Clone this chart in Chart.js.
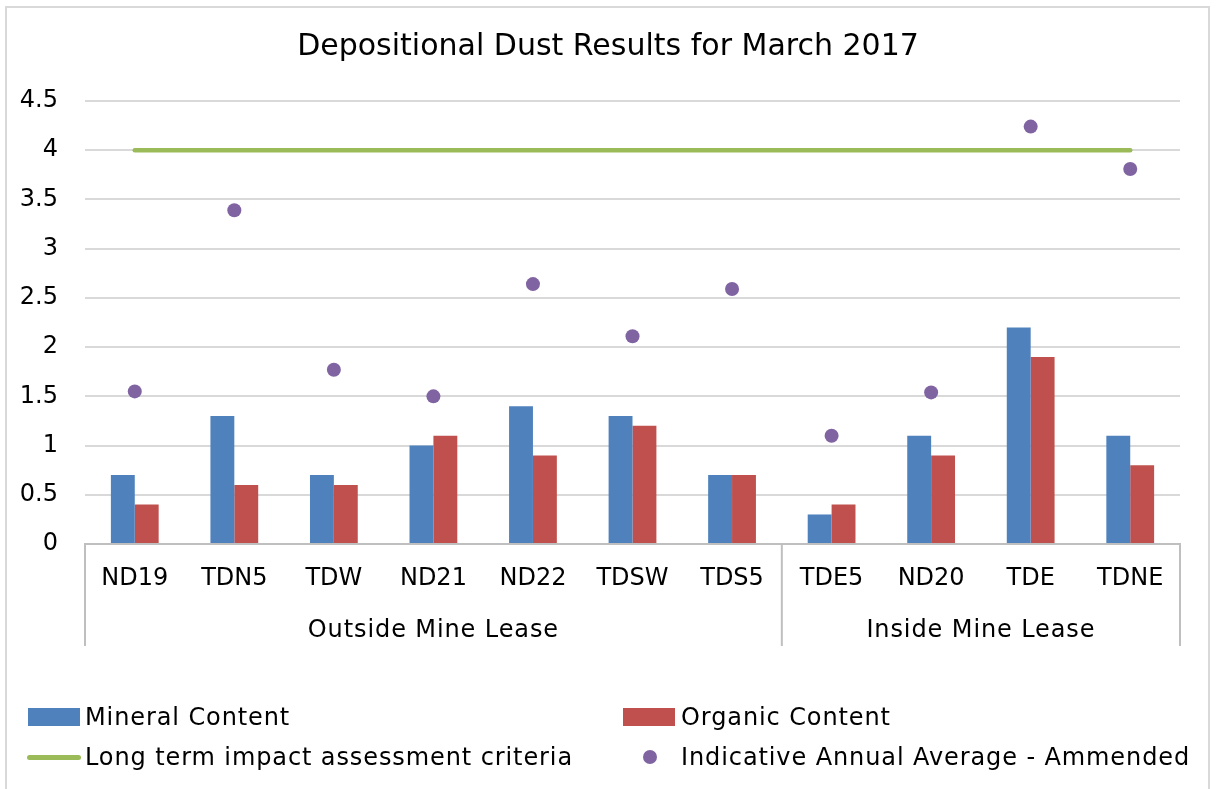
<!DOCTYPE html>
<html>
<head>
<meta charset="utf-8">
<script src="https://cdn.jsdelivr.net/npm/chart.js@4.4.1/dist/chart.umd.min.js"></script>
<style>
  html, body { margin: 0; padding: 0; background: #fff; }
  body { width: 1216px; height: 789px; position: relative; overflow: hidden; font-family: "DejaVu Sans", sans-serif; }
  #frame { position: absolute; left: 5px; top: 6px; width: 1205px; height: 820px; border: 2px solid #d9d9d9; box-sizing: border-box; }
  #wrap { position: absolute; left: 0; top: 0; width: 1216px; height: 789px; }
  #legend { position: absolute; left: 0; top: 0; width: 1216px; height: 789px; pointer-events: none; }
  .li { position: absolute; font-size: 24px; letter-spacing: 0.9px; color: #000; white-space: nowrap; line-height: 28px; }
  .sw { position: absolute; }
</style>
</head>
<body>
<div id="frame"></div>
<div id="wrap"><canvas id="c" width="1216" height="789"></canvas></div>
<div id="legend"></div>
<script>
const categories = ["ND19", "TDN5", "TDW", "ND21", "ND22", "TDSW", "TDS5", "TDE5", "ND20", "TDE", "TDNE"];
const groupNames = ["Outside Mine Lease", "Inside Mine Lease"];
const groupSizes = [7, 4];
const mineral = [0.7, 1.3, 0.7, 1.0, 1.4, 1.3, 0.7, 0.3, 1.1, 2.2, 1.1];
const organic = [0.4, 0.6, 0.6, 1.1, 0.9, 1.2, 0.7, 0.4, 0.9, 1.9, 0.8];
const criteria = [4, 4, 4, 4, 4, 4, 4, 4, 4, 4, 4];
const annualAvg = [1.55, 3.39, 1.77, 1.50, 2.64, 2.11, 2.59, 1.10, 1.54, 4.24, 3.81];
const yTicks = [0, 0.5, 1, 1.5, 2, 2.5, 3, 3.5, 4, 4.5];
const yTickLabels = ["0", "0.5", "1", "1.5", "2", "2.5", "3", "3.5", "4", "4.5"];

const FONT = '"DejaVu Sans", sans-serif';

const groupPlugin = {
  id: 'groupAxis',
  afterDraw(chart) {
    const ctx = chart.ctx;
    const xs = chart.scales.x;
    const area = chart.chartArea;
    const yTop = area.bottom;
    const yBot = 646;
    ctx.save();
    ctx.strokeStyle = '#bfbfbf';
    ctx.lineWidth = 2;
    let idx = 0;
    const bounds = [area.left];
    for (let g = 0; g < groupSizes.length; g++) {
      idx += groupSizes[g];
      if (idx < categories.length) {
        bounds.push((xs.getPixelForValue(idx - 1) + xs.getPixelForValue(idx)) / 2);
      } else {
        bounds.push(area.right);
      }
    }
    bounds.forEach(b => {
      ctx.beginPath();
      ctx.moveTo(b, yTop);
      ctx.lineTo(b, yBot);
      ctx.stroke();
    });
    ctx.fillStyle = '#000';
    ctx.font = '24px ' + FONT;
    if ('letterSpacing' in ctx) ctx.letterSpacing = '0.9px';
    ctx.textAlign = 'center';
    ctx.textBaseline = 'middle';
    for (let g = 0; g < groupNames.length; g++) {
      ctx.fillText(groupNames[g], (bounds[g] + bounds[g + 1]) / 2, 631);
    }
    ctx.restore();
  }
};

const chart = new Chart(document.getElementById('c'), {
  data: {
    labels: categories,
    datasets: [
      { type: 'bar', label: 'Mineral Content', data: mineral, backgroundColor: '#4f81bd', order: 2,
        categoryPercentage: 0.48, barPercentage: 1.0 },
      { type: 'bar', label: 'Organic Content', data: organic, backgroundColor: '#c0504d', order: 2,
        categoryPercentage: 0.48, barPercentage: 1.0 },
      { type: 'line', label: 'Long term impact assessment criteria', data: criteria, borderColor: '#9bbb59',
        backgroundColor: '#9bbb59', borderWidth: 4.5, pointRadius: 0, borderCapStyle: 'round', order: 1, fill: false },
      { type: 'line', label: 'Indicative Annual Average - Ammended', data: annualAvg, showLine: false,
        borderColor: '#8064a2', backgroundColor: '#8064a2', pointRadius: 7, pointBorderWidth: 0, order: 0 }
    ]
  },
  options: {
    responsive: false,
    animation: false,
    layout: { padding: { left: 0, right: 0, top: 0, bottom: 140 } },
    plugins: {
      legend: { display: false },
      tooltip: { enabled: false },
      title: {
        display: true,
        text: 'Depositional Dust Results for March 2017',
        color: '#000',
        font: { family: FONT, size: 30, weight: 'normal' },
        padding: { top: 29, bottom: 36 }
      }
    },
    scales: {
      x: {
        grid: { display: false, drawTicks: false },
        border: { color: '#bfbfbf', width: 2 },
        ticks: { color: '#000', font: { family: FONT, size: 24 }, padding: 20, maxRotation: 0, autoSkip: false },
        afterFit(s) { s.height = 105; }
      },
      y: {
        min: 0, max: 4.5,
        afterBuildTicks(s) { s.ticks = yTicks.map(v => ({ value: v })); },
        grid: { color: '#d9d9d9', lineWidth: 2, drawTicks: false },
        border: { display: false },
        ticks: {
          color: '#000', font: { family: FONT, size: 24 }, padding: 27,
          callback(v, i) { return yTickLabels[i]; }
        },
        afterFit(s) { s.width = 85; }
      },
      yRight: {
        position: 'right',
        min: 0, max: 4.5,
        grid: { display: false, drawTicks: false },
        border: { display: false },
        ticks: { display: false },
        afterFit(s) { s.width = 36; }
      }
    }
  },
  plugins: [groupPlugin]
});

// HTML legend built from the chart datasets
const legendPos = [
  { sx: 28, tx: 85, y: 717 },
  { sx: 623, tx: 681, y: 717 },
  { sx: 27, tx: 85, y: 757 },
  { sx: 643, tx: 681, y: 757 }
];
const leg = document.getElementById('legend');
chart.data.datasets.forEach((ds, i) => {
  const p = legendPos[i];
  const sw = document.createElement('div');
  sw.className = 'sw';
  if (ds.type === 'bar') {
    Object.assign(sw.style, { left: p.sx + 'px', top: (p.y - 9) + 'px', width: '52px', height: '18px', background: ds.backgroundColor });
  } else if (ds.showLine === false) {
    Object.assign(sw.style, { left: p.sx + 'px', top: (p.y - 7) + 'px', width: '14px', height: '14px', borderRadius: '50%', background: ds.backgroundColor });
  } else {
    Object.assign(sw.style, { left: p.sx + 'px', top: (p.y - 2.5) + 'px', width: '54px', height: '5px', borderRadius: '3px', background: ds.borderColor });
  }
  leg.appendChild(sw);
  const t = document.createElement('div');
  t.className = 'li';
  t.textContent = ds.label;
  t.style.left = p.tx + 'px';
  t.style.top = (p.y - 14) + 'px';
  leg.appendChild(t);
});
</script>
</body>
</html>
